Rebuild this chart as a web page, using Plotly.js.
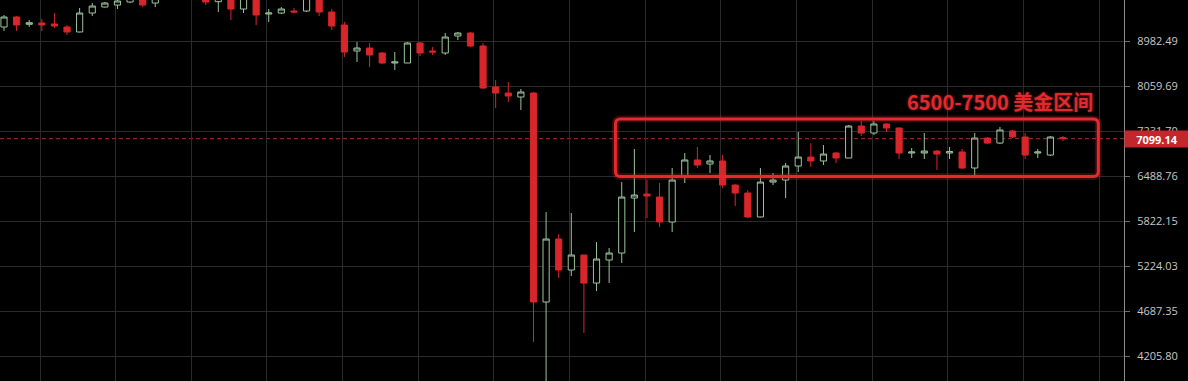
<!DOCTYPE html>
<html>
<head>
<meta charset="utf-8">
<script src="https://cdn.plot.ly/plotly-3.0.1.min.js"></script>
<style>
  html, body { margin: 0; padding: 0; background: #000; }
  #chart { width: 1188px; height: 381px; }
</style>
</head>
<body>
<div id="chart"></div>
<script>
// Daily candles, oldest first
const idx = Array.from({length: 85}, (_, i) => i);

const openP = [
  9291, 9517, 9351, 9381, 9358, 9291, 9180, 9609, 9749, 9796,
  9867, 10000, 9843, 9950, 10080, 10020, 9990, 9875, 10050, 9702,
  10000, 9586, 9609, 9655, 9655, 9960, 9632, 9335, 8769, 8832,
  8727, 8519, 8519, 8939, 8769, 8727, 9091, 9157, 8875, 8040,
  7925, 7849, 7925, 4790, 5575, 5174, 5364, 5014, 5300, 5390,
  6153, 6213, 6168, 5808, 6489, 6744, 6679, 6728, 6349, 6228,
  5879, 6395, 6426, 6647, 6792, 6728, 6858, 6776, 7319, 7197,
  7355, 7284, 6858, 6858, 6891, 6858, 6875, 6615, 7110, 7025,
  7232, 7128, 6858, 6825, 7118
];
const highP = [
  9563, 9540, 9449, 9472, 9609, 9335, 9726, 9843, 9867, 9950,
  10020, 10050, 10050, 10150, 10200, 10120, 10030, 10050, 10150, 10080,
  10050, 9702, 9749, 9726, 10030, 10020, 9702, 9404, 8960, 8939,
  8748, 8748, 8960, 8960, 8853, 9157, 9180, 9180, 8939, 8177,
  8137, 8001, 7944, 5950, 5643, 5935, 5370, 5535, 5456, 6395,
  6925, 6426, 6380, 6615, 6858, 6958, 6825, 6825, 6364, 6273,
  6615, 6535, 6696, 7214, 7025, 6992, 6875, 7337, 7408, 7408,
  7372, 7302, 6941, 7197, 6908, 6958, 6925, 7197, 7128, 7302,
  7249, 7197, 6925, 7145, 7145
];
const lowP = [
  9202, 9202, 9291, 9202, 9269, 9113, 9170, 9540, 9737, 9702,
  9840, 9749, 9749, 9930, 9960, 9940, 9796, 9632, 9449, 9609,
  9335, 9404, 9586, 9609, 9632, 9540, 9224, 8643, 8540, 8437,
  8499, 8376, 8519, 8664, 8685, 8685, 9004, 8853, 8001, 7644,
  7755, 7607, 4350, 3900, 5075, 5100, 4446, 4918, 5014, 5262,
  5670, 5864, 5739, 5670, 6380, 6615, 6535, 6303, 6036, 5864,
  5874, 6349, 6153, 6551, 6631, 6663, 6696, 6776, 7145, 7162,
  7214, 6760, 6776, 6760, 6583, 6760, 6599, 6504, 7008, 7008,
  7110, 6760, 6776, 6808, 7059
];
const closeP = [
  9517, 9335, 9387, 9335, 9313, 9180, 9609, 9772, 9843, 9891,
  9960, 9796, 9950, 10080, 10020, 9990, 9867, 9950, 9702, 9990,
  9563, 9609, 9702, 9632, 9960, 9632, 9313, 8748, 8832, 8685,
  8519, 8540, 8939, 8727, 8748, 9069, 9157, 8875, 8021, 7925,
  7868, 7944, 4790, 5575, 5174, 5364, 5014, 5313, 5390, 6168,
  6198, 6183, 5808, 6426, 6744, 6663, 6728, 6349, 6228, 5879,
  6395, 6426, 6647, 6792, 6728, 6841, 6776, 7319, 7197, 7355,
  7284, 6858, 6875, 6891, 6841, 6883, 6615, 7110, 7025, 7249,
  7128, 6825, 6875, 7128, 7099.14
];

// Price scale labels (right side)
const tickVals = [4205.80, 4687.35, 5224.03, 5822.15, 6488.76, 7231.70, 8059.69, 8982.49];
const tickText = ['4205.80', '4687.35', '5224.03', '5822.15', '6488.76', '7231.70', '8059.69', '8982.49'];
const topTickVal = 10010.70;
const topTickText = '10010.70';

// Last traded price
const lastPrice = 7099.14;
const lastPriceText = '7099.14';

// Consolidation zone
const zoneStart = 48.5, zoneEnd = 86.8;
const zoneLow = 6480, zoneHigh = 7445;
const zoneLabel = '6500-7500 美金区间';

const xRange = [-0.317, 88.84];
const yRange = [3.5977, 3.9963];   // log10 units
const plotW = 1124, plotH = 381;

const paperY = v => (Math.log10(v) - yRange[0]) / (yRange[1] - yRange[0]);

// rounded rectangle path for the zone (x in data, y in paper)
function roundedRect(x0, x1, y0, y1, rPx) {
  const rx = rPx * (xRange[1] - xRange[0]) / plotW;
  const ry = rPx / plotH;
  return `M${x0 + rx},${y1} L${x1 - rx},${y1} Q${x1},${y1} ${x1},${y1 - ry} ` +
         `L${x1},${y0 + ry} Q${x1},${y0} ${x1 - rx},${y0} L${x0 + rx},${y0} ` +
         `Q${x0},${y0} ${x0},${y0 + ry} L${x0},${y1 - ry} Q${x0},${y1} ${x0 + rx},${y1} Z`;
}
const zonePath = roundedRect(zoneStart, zoneEnd, paperY(zoneLow), paperY(zoneHigh), 5);

const RED = '#d8262b';
const GREEN = '#9cc49c';

const trace = {
  type: 'candlestick',
  x: idx,
  open: openP, high: highP, low: lowP, close: closeP,
  increasing: { line: { color: GREEN, width: 1 }, fillcolor: '#000000' },
  decreasing: { line: { color: RED, width: 1 }, fillcolor: RED },
  whiskerwidth: 0,
  hoverinfo: 'skip'
};

const layout = {
  width: 1188, height: 381,
  paper_bgcolor: '#000000', plot_bgcolor: '#000000',
  margin: { l: 0, r: 64, t: 0, b: 0 },
  showlegend: false,
  xaxis: {
    range: xRange, showticklabels: false, zeroline: false, showline: false,
    showgrid: true, gridcolor: '#2b2b2b', gridwidth: 1,
    tickmode: 'linear', tick0: 2.86, dtick: 6, ticks: '',
    rangeslider: { visible: false }, fixedrange: true
  },
  yaxis: {
    type: 'log', side: 'right', range: yRange,
    tickmode: 'array', tickvals: tickVals, ticktext: tickText,
    showgrid: true, gridcolor: '#2b2b2b', gridwidth: 1, zeroline: false,
    showline: true, linecolor: '#8c8c8c', linewidth: 1,
    ticks: 'outside', ticklen: 5, tickcolor: '#6e6e6e',
    ticklabelstandoff: 5,
    tickfont: { family: 'Open Sans, sans-serif', size: 11, color: '#c8c8c8' },
    fixedrange: true
  },
  shapes: [
    {
      type: 'line', xref: 'paper', yref: 'paper',
      x0: 0, x1: 1, y0: paperY(lastPrice), y1: paperY(lastPrice),
      line: { color: '#a83434', width: 1, dash: '4px,3px' }, layer: 'below'
    },
    {
      type: 'path', xref: 'x', yref: 'paper', path: zonePath,
      line: { color: RED, width: 7 }, opacity: 0.25
    },
    {
      type: 'path', xref: 'x', yref: 'paper', path: zonePath,
      line: { color: '#e32a2e', width: 3 }
    }
  ],
  annotations: [
    {
      xref: 'x', yref: 'paper', x: 86.55, y: paperY(zoneHigh),
      xanchor: 'right', yanchor: 'bottom', yshift: 1,
      text: zoneLabel, showarrow: false,
      font: { family: 'Noto Sans CJK SC, sans-serif', size: 20, weight: 600, color: '#e02a2e',
              shadow: '0px 0px 3px rgba(220,40,44,0.6)' }
    },
    {
      xref: 'paper', yref: 'paper', x: 1, y: paperY(lastPrice),
      xanchor: 'left', yanchor: 'middle',
      text: '<b>' + lastPriceText + '</b>', showarrow: false,
      bgcolor: '#c4272b', width: 62, height: 14, borderpad: 1, align: 'center',
      font: { family: 'Open Sans, sans-serif', size: 11, color: '#ffffff' }
    },
    {
      xref: 'paper', yref: 'paper', x: 1, y: paperY(topTickVal),
      xanchor: 'left', yanchor: 'middle', xshift: 8, yshift: 3,
      text: topTickText, showarrow: false,
      font: { family: 'Open Sans, sans-serif', size: 11, color: '#c8c8c8' }
    }
  ]
};

Plotly.newPlot('chart', [trace], layout, { staticPlot: true, displayModeBar: false });
</script>
</body>
</html>
